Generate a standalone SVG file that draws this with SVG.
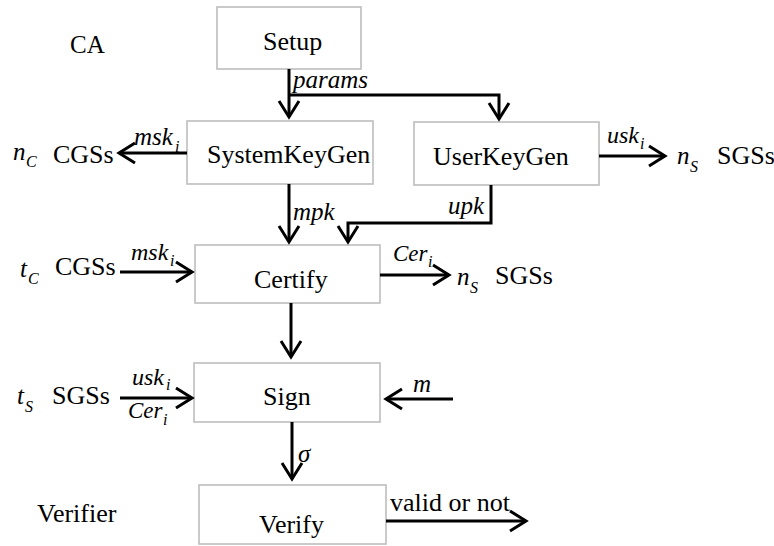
<svg xmlns="http://www.w3.org/2000/svg" width="774" height="546" viewBox="0 0 774 546">
  <style>
    .box { fill: #ffffff; stroke: #bdbdbd; stroke-width: 1.6; }
    .t { font-family: "Liberation Serif", "Times New Roman", serif; font-size: 26px; fill: #000; }
    .lbl { font-family: "Liberation Serif", "Times New Roman", serif; font-size: 25px; font-style: italic; fill: #000; }
    .sub { font-family: "Liberation Serif", "Times New Roman", serif; font-size: 16px; font-style: italic; fill: #000; }
    .edge { fill: none; stroke: #000; stroke-width: 3; }
  </style>
  <defs>
    <marker id="arrow" markerUnits="userSpaceOnUse" markerWidth="30" markerHeight="30" refX="0" refY="0" viewBox="-20 -15 30 30" orient="auto" overflow="visible">
      <path d="M-16,-10 L0,0 L-16,10" fill="none" stroke="#000" stroke-width="3" stroke-linejoin="miter"/>
    </marker>
  </defs>
  <rect width="774" height="546" fill="#ffffff"/>

  <!-- nodes -->
  <g id="setup">
    <rect class="box" x="217" y="7" width="144" height="62"/>
    <text class="t" x="263" y="50">Setup</text>
  </g>
  <g id="systemkeygen">
    <rect class="box" x="187" y="121" width="186" height="63"/>
    <text class="t" x="207" y="163">SystemKeyGen</text>
  </g>
  <g id="userkeygen">
    <rect class="box" x="414" y="122" width="185" height="63"/>
    <text class="t" x="433" y="165">UserKeyGen</text>
  </g>
  <g id="certify">
    <rect class="box" x="195" y="245" width="185" height="58"/>
    <text class="t" x="254" y="288">Certify</text>
  </g>
  <g id="sign">
    <rect class="box" x="194" y="363" width="186" height="59"/>
    <text class="t" x="263" y="405">Sign</text>
  </g>
  <g id="verify">
    <rect class="box" x="199" y="485" width="187" height="59"/>
    <text class="t" x="259" y="533">Verify</text>
  </g>

  <!-- parties and group labels -->
  <g id="parties">
    <text class="t" x="70" y="53" style="font-size:25px">CA</text>
    <text class="lbl" x="13" y="160">n</text><text class="sub" x="26" y="167">C</text>
    <text class="t" x="53" y="163">CGSs</text>
    <text class="lbl" x="20" y="277">t</text><text class="sub" x="28" y="284">C</text>
    <text class="t" x="55" y="275">CGSs</text>
    <text class="lbl" x="677" y="164">n</text><text class="sub" x="690" y="172">S</text>
    <text class="t" x="717" y="164">SGSs</text>
    <text class="lbl" x="457" y="285">n</text><text class="sub" x="470" y="293">S</text>
    <text class="t" x="495" y="284">SGSs</text>
    <text class="lbl" x="17" y="404">t</text><text class="sub" x="25" y="412">S</text>
    <text class="t" x="52" y="404">SGSs</text>
    <text class="t" x="37" y="522">Verifier</text>
  </g>

  <!-- connectors -->
  <g id="connectors">
    <path class="edge" d="M289,69 V117" marker-end="url(#arrow)"/>
    <path class="edge" d="M289,95 H499 V119" marker-end="url(#arrow)"/>
    <path class="edge" d="M187,153 H119" marker-end="url(#arrow)"/>
    <path class="edge" d="M599,156 H665" marker-end="url(#arrow)"/>
    <path class="edge" d="M289,184 V242" marker-end="url(#arrow)"/>
    <path class="edge" d="M491,185 V223 H348 V242" marker-end="url(#arrow)"/>
    <path class="edge" d="M120,272 H192" marker-end="url(#arrow)"/>
    <path class="edge" d="M380,275 H449" marker-end="url(#arrow)"/>
    <path class="edge" d="M291,303 V357" marker-end="url(#arrow)"/>
    <path class="edge" d="M120,398 H192" marker-end="url(#arrow)"/>
    <path class="edge" d="M453,399 H386" marker-end="url(#arrow)"/>
    <path class="edge" d="M292,422 V479" marker-end="url(#arrow)"/>
    <path class="edge" d="M386,521 H526" marker-end="url(#arrow)"/>
  </g>

  <!-- connector labels -->
  <g id="edge-labels">
    <text class="lbl" x="293" y="88">params</text>
    <text class="lbl" x="134" y="145">msk</text><text class="sub" x="175" y="152">i</text>
    <text class="lbl" x="607" y="143" style="font-size:24px">usk</text><text class="sub" x="640" y="149">i</text>
    <text class="lbl" x="293" y="220">mpk</text>
    <text class="lbl" x="448" y="214">upk</text>
    <text class="lbl" x="131" y="260" style="font-size:24px">msk</text><text class="sub" x="170" y="266">i</text>
    <text class="lbl" x="393" y="261" style="font-size:23px">Cer</text><text class="sub" x="428" y="267">i</text>
    <text class="lbl" x="132" y="385" style="font-size:24px">usk</text><text class="sub" x="166" y="390">i</text>
    <text class="lbl" x="128" y="418" style="font-size:23px">Cer</text><text class="sub" x="163" y="425">i</text>
    <text class="lbl" x="413" y="392">m</text>
    <text class="lbl" x="298" y="462">σ</text>
    <text class="t" x="390" y="511">valid or not</text>
  </g>
</svg>
